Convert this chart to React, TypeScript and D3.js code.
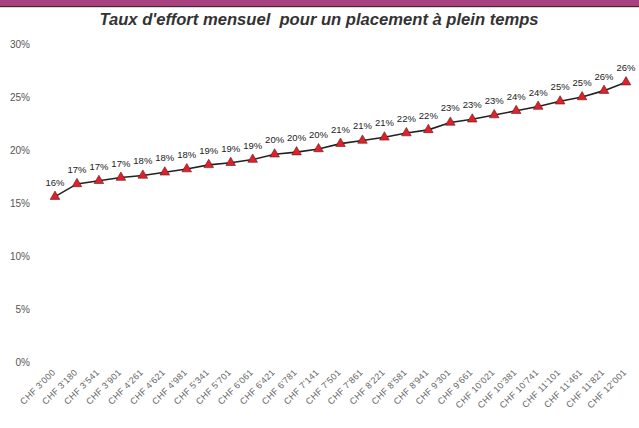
import React from "react";
import * as d3 from "d3";

const width = 639;
const height = 428;
const margin = { top: 44, right: 13, bottom: 66, left: 55 };

const categories = [
  "CHF 3'000", "CHF 3'180", "CHF 3'541", "CHF 3'901", "CHF 4'261", "CHF 4'621",
  "CHF 4'981", "CHF 5'341", "CHF 5'701", "CHF 6'061", "CHF 6'421", "CHF 6'781",
  "CHF 7'141", "CHF 7'501", "CHF 7'861", "CHF 8'221", "CHF 8'581", "CHF 8'941",
  "CHF 9'301", "CHF 9'661", "CHF 10'021", "CHF 10'381", "CHF 10'741", "CHF 11'101",
  "CHF 11'461", "CHF 11'821", "CHF 12'001",
];
const effort = [
  15.6, 16.8, 17.1, 17.4, 17.6, 17.9, 18.2, 18.6, 18.8, 19.1, 19.6, 19.8, 20.1,
  20.6, 20.9, 21.2, 21.6, 21.9, 22.6, 22.9, 23.3, 23.7, 24.1, 24.6, 25.0, 25.6, 26.4,
];
const yTicks = [0, 5, 10, 15, 20, 25, 30];
const title = "Taux d'effort mensuel\u00a0 pour un placement à plein temps";

const x = d3
  .scalePoint<string>()
  .domain(categories)
  .range([margin.left, width - margin.right]);
const y = d3
  .scaleLinear()
  .domain([0, 30])
  .range([height - margin.bottom, margin.top]);

const line = d3
  .line<number>()
  .x((_, i) => x(categories[i]) as number)
  .y(d => y(d));

const tri = d3.symbol().type(d3.symbolTriangle).size(40)();

export default function App() {
  return (
    <div style={{ position: "absolute", left: 0, top: 0 }}>
      <svg width={width} height={height} style={{ display: "block", fontFamily: "'Liberation Sans', Arial, sans-serif" }}>
        <rect width={width} height={height} fill="#fff" />
        <rect x={0} y={0} width={width} height={6} fill="#a9407f" />
        <rect x={0} y={6} width={width} height={1.2} fill="#3a2a35" />
        <text x={319} y={25} textAnchor="middle" fontSize={16.6} fontWeight="bold" fontStyle="italic" fill="#333">
          {title}
        </text>

        {yTicks.map(t => (
          <text key={t} x={30} y={y(t) + 4} textAnchor="end" fontSize={10} fill="#555">
            {t}%
          </text>
        ))}

        {categories.map(c => (
          <text
            key={c}
            transform={`translate(${(x(c) as number) + 1},${y(0) + 11}) rotate(-45)`}
            textAnchor="end"
            fontSize={9}
            letterSpacing={0.3}
            fill="#666"
          >
            {c}
          </text>
        ))}

        <path d={line(effort) ?? ""} fill="none" stroke="#222" strokeWidth={1.6} />

        {effort.map((v, i) => (
          <g key={i} transform={`translate(${x(categories[i])},${y(v)})`}>
            <path d={tri} fill="#e0202a" stroke="#5a1a1a" strokeWidth={0.6} />
          </g>
        ))}

        {effort.map((v, i) => (
          <text
            key={i}
            x={x(categories[i]) as number}
            y={y(v) - 11}
            textAnchor="middle"
            fontSize={9.5}
            fill="#222"
          >
            {d3.format(".0f")(v)}%
          </text>
        ))}
      </svg>
    </div>
  );
}
